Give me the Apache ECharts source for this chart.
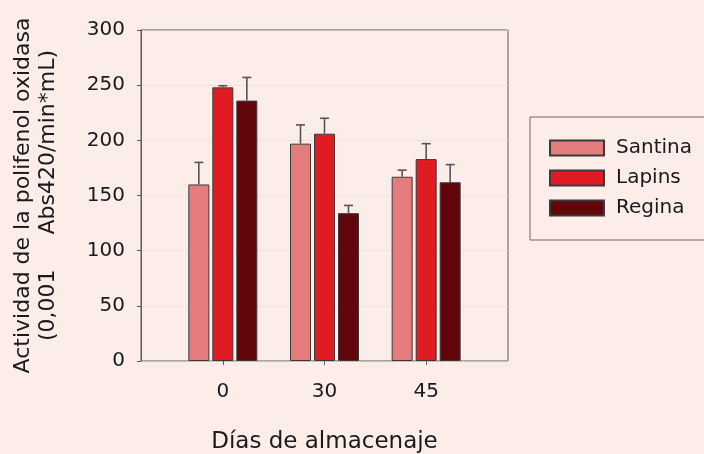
<!DOCTYPE html>
<html>
<head>
<meta charset="utf-8">
<script src="https://cdn.jsdelivr.net/npm/echarts@6/dist/echarts.min.js"></script>
<style>html,body{margin:0;padding:0;background:#FCEDE9;}#c{width:704px;height:454px;}</style>
</head>
<body>
<div id="c"></div>
<script>
const categories = ['0', '30', '45'];
const seriesNames = ['Santina', 'Lapins', 'Regina'];
const santina = [160, 197, 167];
const lapins = [248, 206, 183];
const regina = [236, 134, 162];
const santinaErrTop = [180, 214, 173];
const lapinsErrTop = [249.5, 220, 197];
const reginaErrTop = [257, 141, 178];
const yTicks = [0, 50, 100, 150, 200, 250, 300];

const colors = ['#E47C7C', '#E01B24', '#62060C'];
const means = [santina, lapins, regina];
const errs = [santinaErrTop, lapinsErrTop, reginaErrTop];
const BAR_W = 21, BAR_GAP = 3;
const FONT = '"DejaVu Sans", Verdana, sans-serif';

const chart = echarts.init(document.getElementById('c'));

const series = [];
seriesNames.forEach((name, i) => {
  series.push({
    name: name,
    type: 'bar',
    xAxisIndex: 1,
    yAxisIndex: 1,
    barWidth: BAR_W,
    barGap: (BAR_GAP / BAR_W * 100) + '%',
    itemStyle: { color: colors[i], borderColor: '#3a3a3a', borderWidth: 1 },
    data: means[i],
    z: 2
  });
});
seriesNames.forEach((name, i) => {
  series.push({
    type: 'custom',
    xAxisIndex: 1,
    yAxisIndex: 1,
    z: 3,
    silent: true,
    data: categories.map((c, k) => [k, means[i][k], errs[i][k]]),
    renderItem: function (params, api) {
      const k = api.value(0);
      const base = api.coord([k, api.value(1)]);
      const top = api.coord([k, api.value(2)]);
      const dx = (i - 1) * (BAR_W + BAR_GAP);
      const x = base[0] + dx;
      const style = { stroke: '#555', lineWidth: 1.6, fill: null };
      return {
        type: 'group',
        children: [
          { type: 'line', shape: { x1: x, y1: base[1], x2: x, y2: top[1] }, style: style },
          { type: 'line', shape: { x1: x - 4.5, y1: top[1], x2: x + 4.5, y2: top[1] }, style: style }
        ]
      };
    }
  });
});

chart.setOption({
  backgroundColor: '#FCEDE9',
  animation: false,
  textStyle: { fontFamily: FONT },
  grid: [
    { left: 141, top: 30, width: 367, height: 331, show: true, borderColor: '#5a5a5a', borderWidth: 1, backgroundColor: 'transparent', outerBoundsMode: 'none', containLabel: false },
    { left: 172, top: 30, width: 305, height: 331, outerBoundsMode: 'none', containLabel: false }
  ],
  legend: {
    data: seriesNames,
    orient: 'vertical',
    left: 530,
    top: 117,
    padding: [21, 14, 22, 19],
    itemWidth: 54,
    itemHeight: 15,
    itemGap: 10,
    icon: 'rect',
    borderColor: '#666',
    borderWidth: 1,
    textStyle: { fontSize: 20, color: '#1a1a1a', fontFamily: FONT, padding: [0, 0, 0, 7] }
  },
  xAxis: [
    { gridIndex: 0, type: 'value', show: false, min: 0, max: 1 },
    {
      gridIndex: 1,
      type: 'category',
      data: categories,
      name: 'Días de almacenaje',
      nameLocation: 'middle',
      nameGap: 70,
      nameTextStyle: { fontSize: 23, color: '#1a1a1a', fontFamily: FONT },
      axisLine: { show: false },
      axisTick: { show: true, alignWithLabel: true, length: 4, lineStyle: { color: '#5a5a5a' } },
      axisLabel: { fontSize: 20, color: '#1a1a1a', margin: 21, fontFamily: FONT },
      splitLine: { show: false }
    }
  ],
  yAxis: [
    {
      gridIndex: 0,
      type: 'value',
      min: 0,
      max: 300,
      interval: 50,
      axisLine: { show: true, lineStyle: { color: '#5a5a5a' } },
      axisTick: { show: true, length: 4, lineStyle: { color: '#5a5a5a' } },
      axisLabel: { fontSize: 20, color: '#1a1a1a', margin: 16, fontFamily: FONT,
        formatter: v => yTicks.indexOf(v) >= 0 ? String(v) : '' },
      splitLine: { show: true, lineStyle: { color: '#ead6d2', type: 'dotted', width: 1 } },
      name: 'Actividad de la polifenol oxidasa\n(0,001     Abs420/min*mL)',
      nameLocation: 'middle',
      nameRotate: 90,
      nameGap: 80,
      nameTextStyle: { fontSize: 22, color: '#1a1a1a', fontFamily: FONT, lineHeight: 25, align: 'center' }
    },
    { gridIndex: 1, type: 'value', min: 0, max: 300, show: false }
  ],
  series: series
});
</script>
</body>
</html>
